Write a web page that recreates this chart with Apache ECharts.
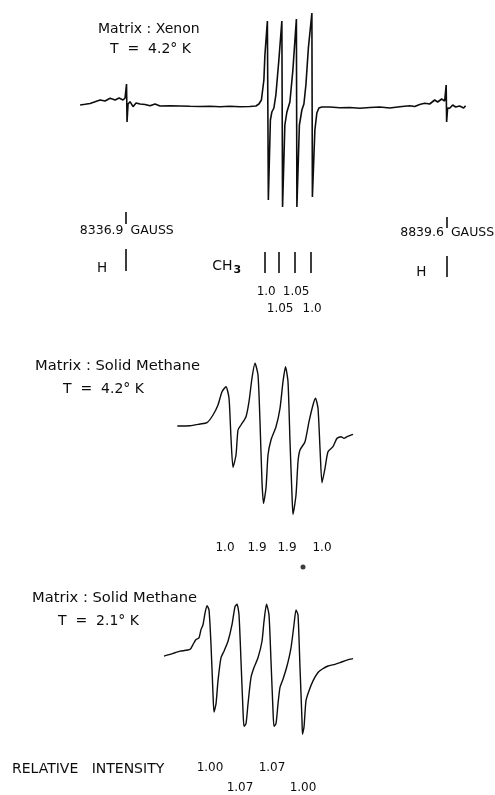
<!DOCTYPE html>
<html><head><meta charset="utf-8">
<script src="https://cdn.jsdelivr.net/npm/echarts/dist/echarts.min.js"></script>
<style>html,body{margin:0;padding:0;background:#fff}#c{width:495px;height:795px}</style>
</head><body><div id="c"></div>
<script>
// ---- Xenon, 4.2 K : field in gauss, signal in arbitrary units ----
const xenonField = [8264.9, 8272.7, 8280.5, 8288.4, 8296.2, 8304.0, 8311.9, 8319.7, 8326.0, 8332.2, 8335.4, 8337.7, 8338.5, 8340.1, 8343.2, 8347.9, 8352.6, 8358.9, 8366.7, 8374.6, 8382.4, 8390.3, 8405.9, 8421.6, 8437.3, 8453.0, 8468.6, 8484.3, 8500.0, 8515.6, 8531.3, 8540.7, 8545.4, 8549.3, 8553.2, 8554.8, 8557.1, 8558.7, 8560.2, 8563.4, 8565.7, 8568.9, 8572.0, 8576.7, 8581.4, 8582.5, 8586.1, 8589.3, 8594.0, 8598.7, 8604.2, 8605.0, 8608.9, 8612.8, 8616.0, 8619.1, 8623.0, 8628.5, 8629.3, 8633.2, 8636.3, 8639.5, 8644.1, 8656.7, 8672.3, 8688.0, 8703.7, 8719.4, 8735.0, 8750.7, 8766.3, 8782.0, 8789.8, 8797.6, 8805.5, 8813.3, 8821.2, 8825.9, 8832.1, 8836.8, 8839.2, 8839.9, 8841.5, 8844.7, 8849.4, 8854.1, 8860.3, 8866.6, 8869.7];
const xenonSignal = [1, 1.7, 2.5, 4.3, 6, 5, 7.7, 6, 8, 6, 8, 22, -16, 2, 4.3, -0.7, 3, 2, 1.5, 0.3, 2, 0, 0.3, 0, -0.3, -0.5, -0.3, -0.7, -0.3, -0.8, -0.5, 0, 2, 6, 26, 51, 71, 85, -94, -14, -6, -2, 11, 46, 85, -101, -19, -6, 4, 36, 87, -101, -19, -4, 2, 21, 58, 93, -91, -24, -7, -2, -1, -1, -1.7, -1.5, -2.3, -1.5, -1, -2, -0.7, 0.3, -0.5, 1.5, 2.7, 2, 6, 4, 7, 5, 21, -16, -2, -2.3, 1, -1, 0, -2, 0.3];
const gaussMarks = [8336.9, 8839.6];
const gaussLabels = ['8336.9', '8839.6'];
const hLines = [8336.9, 8839.6];
const ch3Lines = [8554.8, 8576.7, 8601.8, 8626.8];
const ch3Intensity = ['1.0', '1.05', '1.05', '1.0'];

// ---- Solid methane, 4.2 K : field in arbitrary units ----
const methane42Field = [7.3, 20, 30, 37, 43, 48, 52, 56, 59, 61, 63, 66, 68, 71, 76, 79, 82, 85, 88, 90, 92, 93.5, 96, 98, 101, 106, 110, 113, 115.5, 118, 120, 122, 123, 126, 128, 130, 135, 139, 143, 145.5, 148, 150, 152, 155, 158, 163, 167, 171, 174, 177, 183];
const methane42Signal = [1, 1.3, 3, 4.3, 12, 22, 35.3, 40.3, 29, -11, -40.3, -28, -3, 2, 10.3, 25.3, 49, 63.7, 52, 5.3, -54.7, -76.3, -61, -28, -13, 0.3, 18.7, 45.3, 60.3, 45.3, -14.7, -68, -87.3, -68, -34.7, -23, -14.7, 5.3, 22, 28.7, 18.7, -21.3, -55.7, -41.3, -24.7, -19.7, -11.3, -9.7, -11.3, -9.7, -7.3];
const methane42LinePos = [55, 87, 117, 152];
const methane42Intensity = ['1.0', '1.9', '1.9', '1.0'];

// ---- Solid methane, 2.1 K ----
const methane21Field = [4, 10, 15, 20, 30, 33, 36, 39, 41, 43, 45, 47, 49, 51, 53, 54, 56, 58, 61, 64, 68, 72, 75, 77, 79, 81, 83, 84, 86, 88, 91, 94, 98, 102, 104, 106.5, 109, 111, 113, 114, 116, 118, 120, 123, 127, 131, 134, 136, 138, 140, 142, 142.5, 144, 146, 149, 153, 158, 162, 168, 175, 180, 187, 193];
const methane21Signal = [0.3, 2, 3.7, 5.3, 7, 12, 17, 18.7, 27, 32, 43.7, 51.3, 47, 12, -38, -56.3, -48, -24.7, -1.3, 5.3, 15.3, 32, 50.3, 52.7, 42, -4.7, -54.7, -70.7, -68, -48, -21.3, -11.3, -1.3, 15.3, 35.3, 52.7, 42, -4.7, -54.7, -70.7, -68, -48, -31.3, -23, -9.7, 8.7, 32, 47, 42, -11.3, -64.7, -78.7, -71.3, -44.7, -34.7, -24.7, -16.3, -13, -9.7, -8, -6.3, -3.7, -2.3];
const methane21LinePos = [50, 80, 112, 143];
const methane21Intensity = ['1.00', '1.07', '1.07', '1.00'];

const ink = '#0d0d0d';
const FONT = 'DejaVu Sans';
const pairs = (xs, ys) => xs.map((x, i) => [x, ys[i]]);

const chart = echarts.init(document.getElementById('c'), null, {renderer: 'canvas'});

function stick(x, y0, y1) { return {coords: [[x, y0], [x, y1]]}; }
function lbl(x, y, text, pos, size, dist) {
  return {name: text, value: [x, y],
    label: {position: pos, distance: dist || 0, fontSize: size, color: ink, opacity: 1, textBorderWidth: 0}};
}

const sticks0 = [
  stick(gaussMarks[0], -106, -118), stick(gaussMarks[1], -111, -122),
  stick(hLines[0], -143, -165), stick(hLines[1], -150, -171)
].concat(ch3Lines.map(x => stick(x, -146, -167)));

const labels0 = [
  lbl(gaussMarks[0], -125, gaussLabels[0], 'left', 12.5, 2),
  lbl(gaussMarks[0], -125, 'GAUSS', 'right', 12.5, 4),
  lbl(gaussMarks[1], -127, gaussLabels[1], 'left', 12.5, 2),
  lbl(gaussMarks[1], -127, 'GAUSS', 'right', 12.5, 4),
  lbl(8299.3, -162, 'H', 'inside', 13.5),
  lbl(8800.3, -166, 'H', 'inside', 13.5),
  lbl(8495, -160, 'CH3', 'inside', 14),
].concat(ch3Lines.map((x, i) => lbl(x + 2, i % 2 === 0 ? -186 : -203, ch3Intensity[i], 'inside', 12)));

const labels1 = methane42LinePos.map((x, i) => lbl(x, -121, methane42Intensity[i], 'inside', 12));
const labels2 = methane21LinePos.map((x, i) => lbl(x, i % 2 === 0 ? -113 : -133, methane21Intensity[i], 'inside', 12));

const labelSeries = (xi, data) => ({
  type: 'scatter', xAxisIndex: xi, yAxisIndex: xi, symbolSize: 1, silent: true, clip: false,
  itemStyle: {color: '#ffffff', opacity: 0},
  label: {show: true, color: ink, fontFamily: FONT, opacity: 1, textBorderWidth: 0,
    formatter: p => p.name === 'CH3' ? '{a|CH}{s|3}' : p.name,
    rich: {a: {fontSize: 14, fontFamily: FONT, color: ink}, s: {fontSize: 11, fontFamily: FONT, color: ink, fontWeight: 'bold', padding: [9, 0, 0, 1]}}},
  data: data
});

const lineSeries = (xi, data, w, smooth) => ({
  type: 'line', xAxisIndex: xi, yAxisIndex: xi, data: data, showSymbol: false, symbol: 'none',
  smooth: smooth, silent: true, lineStyle: {color: ink, width: w}, clip: false
});

const axisX = (gi, min, max) => ({type: 'value', gridIndex: gi, min: min, max: max, show: false});
const axisY = (gi, min, max) => ({type: 'value', gridIndex: gi, min: min, max: max, show: false});

function title(left, cy, text, size) {
  return {type: 'text', left: left, top: cy - Math.round(size * 0.6), silent: true,
    style: {text: text, font: size + 'px "' + FONT + '"', fill: ink}};
}

chart.setOption({
  animation: false,
  backgroundColor: '#ffffff',
  grid: [
    {left: 77, width: 392, top: 6, height: 315},
    {left: 170, width: 190, top: 357, height: 215},
    {left: 160, width: 200, top: 597, height: 200}
  ],
  xAxis: [axisX(0, 8260, 8875), axisX(1, 0, 190), axisX(2, 0, 200)],
  yAxis: [axisY(0, -215, 100), axisY(1, -145, 70), axisY(2, -140, 60)],
  graphic: [
    title(98, 30, 'Matrix : Xenon', 14),
    title(110, 50, 'T  =  4.2° K', 14),
    title(35, 368, 'Matrix : Solid Methane', 14.7),
    title(63, 390, 'T  =  4.2° K', 14),
    title(32, 600, 'Matrix : Solid Methane', 14.7),
    title(58, 622, 'T  =  2.1° K', 14),
    title(12, 770, 'RELATIVE   INTENSITY', 14)
  ],
  series: [
    lineSeries(0, pairs(xenonField, xenonSignal), 1.6, false),
    {type: 'lines', coordinateSystem: 'cartesian2d', xAxisIndex: 0, yAxisIndex: 0, silent: true,
      lineStyle: {color: ink, width: 1.6, opacity: 1}, data: sticks0},
    labelSeries(0, labels0),
    lineSeries(1, pairs(methane42Field, methane42Signal), 1.4, 0.2),
    labelSeries(1, labels1),
    {type: 'scatter', xAxisIndex: 1, yAxisIndex: 1, symbol: 'circle', symbolSize: 5, silent: true,
      itemStyle: {color: ink}, data: [[133, -140]]},
    lineSeries(2, pairs(methane21Field, methane21Signal), 1.4, 0.2),
    labelSeries(2, labels2)
  ]
});
</script></body></html>
